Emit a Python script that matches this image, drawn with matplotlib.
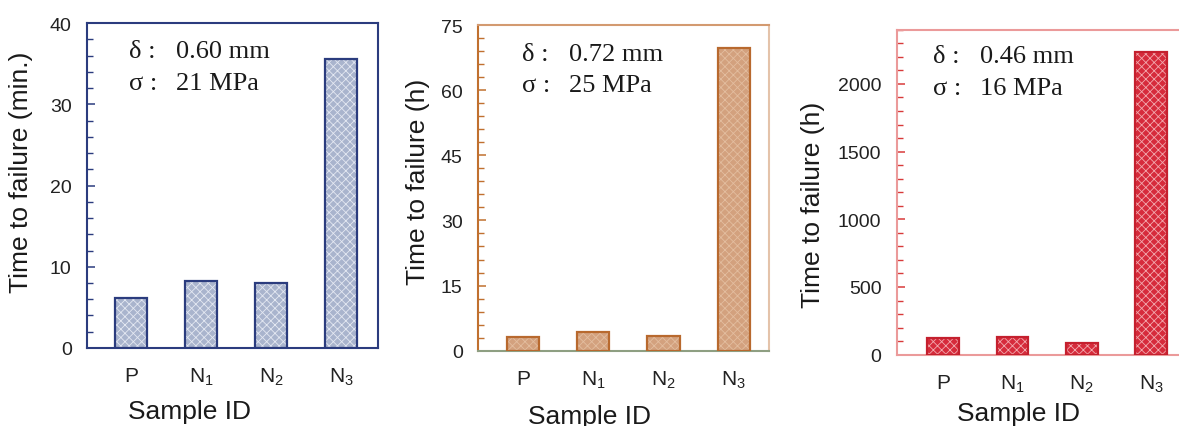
import matplotlib
matplotlib.use("Agg")
import matplotlib.pyplot as plt
from matplotlib.ticker import MultipleLocator

plt.rcParams['font.family'] = ['Liberation Sans', 'DejaVu Sans']
plt.rcParams['mathtext.default'] = 'regular'
plt.rcParams['hatch.linewidth'] = 0.6

samples = ['P', r'N$_1$', r'N$_2$', r'N$_3$']

# panel 1: minutes
t_min = [6.1, 8.25, 8.0, 35.6]
# panel 2: hours
t_h_a = [3.1, 4.4, 3.4, 69.8]
# panel 3: hours
t_h_b = [123, 128, 84, 2236]

ylabels = ['Time to failure (min.)', 'Time to failure (h)', 'Time to failure (h)']
deltas = ['0.60 mm', '0.72 mm', '0.46 mm']
sigmas = ['21 MPa', '25 MPa', '16 MPa']

panels = [
    dict(vals=t_min, ylim=40, major=10, minor=2, xlim=(-0.63, 3.53),
         pos=[0.0738, 0.1827, 0.2468, 0.761],
         fill='#a9b4cd', hatch='#e4e8f2', edge='#2b3c7e',
         spines=dict(left='#2b3c7e', right='#2b3c7e', top='#2b3c7e', bottom='#2b3c7e'),
         tick='#2b3c7e', ylab=(-0.186, 0.543), xlab=(0.352, -0.157),
         txt=(0.144, 0.306, 0.895, 0.797)),
    dict(vals=t_h_a, ylim=75, major=15, minor=3, xlim=(-0.64, 3.5),
         pos=[0.4054, 0.1763, 0.2468, 0.7628],
         fill='#d3a17e', hatch='#e3bd9f', edge='#b8692e',
         spines=dict(left='#c0702f', right='#e4c3aa', top='#d39a70', bottom='#8e9f82'),
         tick='#c0702f', ylab=(-0.165, 0.522), xlab=(0.382, -0.164),
         txt=(0.15, 0.314, 0.893, 0.798)),
    dict(vals=t_h_b, ylim=2400, major=500, minor=100, xlim=(-0.67, 3.53),
         pos=[0.7606, 0.167, 0.2468, 0.761],
         fill='#d62b3b', hatch='#f2a9ae', edge='#c4202e',
         spines=dict(left='#eb9a9a', right='#eb9a9a', top='#eb9a9a', bottom='#eb9a9a'),
         tick='#d83a3a', ylab=(-0.246, 0.464), xlab=(0.417, -0.142),
         txt=(0.124, 0.286, 0.9, 0.802)),
]

fig = plt.figure(figsize=(11.79, 4.27), dpi=100)

for i, p in enumerate(panels):
    ax = fig.add_axes(p['pos'])
    x = range(len(samples))
    ax.bar(x, p['vals'], width=0.46, color=p['fill'], edgecolor=p['hatch'],
           hatch='xxxx', linewidth=0, zorder=2)
    ax.bar(x, p['vals'], width=0.46, facecolor='none', edgecolor=p['edge'],
           linewidth=1.6, zorder=3)
    ax.set_xlim(*p['xlim'])
    ax.set_ylim(0, p['ylim'])
    ax.set_xticks(list(x))
    ax.set_xticklabels(samples)
    ax.yaxis.set_major_locator(MultipleLocator(p['major']))
    ax.yaxis.set_minor_locator(MultipleLocator(p['minor']))
    ax.tick_params(axis='y', which='major', direction='in', length=6, width=1.1,
                   color=p['tick'], labelsize=14, labelcolor='#222222', pad=11)
    ax.tick_params(axis='y', which='minor', direction='in', length=4, width=1.0,
                   color=p['tick'])
    ax.tick_params(axis='x', length=0, labelsize=15, labelcolor='#222222', pad=13)
    for side, c in p['spines'].items():
        ax.spines[side].set_color(c)
        ax.spines[side].set_linewidth(1.5)
    ax.set_ylabel(ylabels[i], fontsize=19, color='#1a1a1a')
    ax.yaxis.set_label_coords(*p['ylab'])
    ax.set_xlabel('Sample ID', fontsize=19, color='#1a1a1a')
    ax.xaxis.set_label_coords(*p['xlab'])

    tx1, tx2, ty1, ty2 = p['txt']
    serif = dict(family=['Liberation Serif', 'DejaVu Serif'], fontsize=19,
                 color='#1a1a1a', transform=ax.transAxes, va='baseline')
    ax.text(tx1, ty1, 'δ :', **serif)
    ax.text(tx2, ty1, deltas[i], **serif)
    ax.text(tx1, ty2, 'σ :', **serif)
    ax.text(tx2, ty2, sigmas[i], **serif)

fig.savefig('out.png', dpi=100)
